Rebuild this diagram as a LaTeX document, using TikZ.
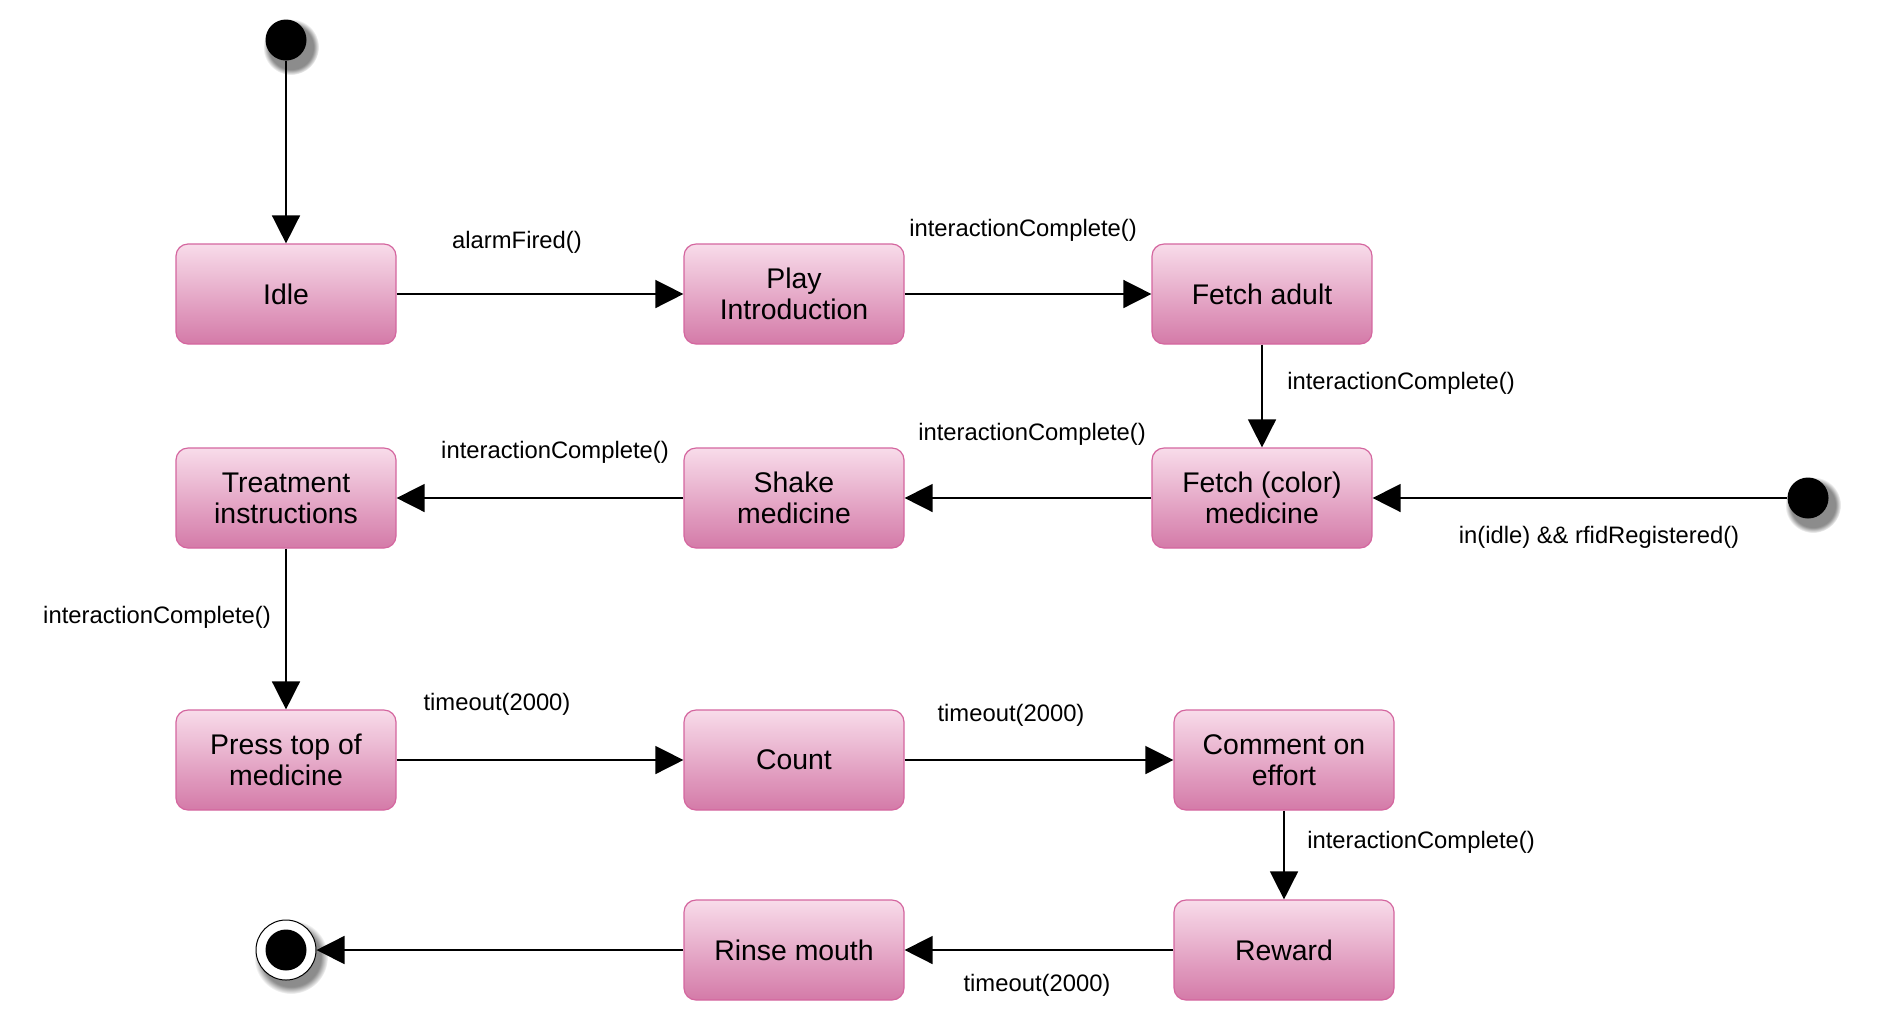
\documentclass[tikz,border=0pt]{standalone}
\usepackage{fontspec}
\setmainfont{Liberation Sans}
\usetikzlibrary{arrows.meta,fadings}
\definecolor{mtop}{HTML}{F8DCEA}
\definecolor{mbot}{HTML}{D47AA8}
\definecolor{mline}{HTML}{D4669F}
\tikzstyle{state}=[rectangle, rounded corners=6pt, draw=mline, line width=0.6, top color=mtop, bottom color=mbot, minimum width=110pt, minimum height=50pt, align=center, font=\fontsize{14.2}{15.5}\selectfont]
\tikzstyle{init}=[circle, fill=black, minimum size=20.5pt, inner sep=0pt]
\tikzstyle{fin}=[circle, draw=black, fill=white, line width=0.5, minimum size=30pt, inner sep=0pt]
\tikzstyle{lbl}=[font=\fontsize{11.9}{14}\selectfont, inner sep=0pt]
\tikzstyle{l1}=[line width=0.75]
\tikzstyle{trans}=[l1, -{Triangle[length=14pt, width=14pt]}]
\tikzstyle{shade}=[black!45, path fading=circle with fuzzy edge 20 percent]

\begin{document}
\begin{tikzpicture}[x=0.5pt, y=-0.5pt]
    \useasboundingbox (0,0) rectangle (1882,1024);

    % shadows of the round states
    \fill[shade] (291,47) circle (28);
    \fill[shade] (1813,505) circle (28);
    \fill[shade] (291,957) circle (37);

    \node[init] at (286,40) (start) {};
    \node[init] at (1808,498) (rfid) {};
    \node[fin] at (286,950) (stop) {};
    \node[init] at (286,950) {};

    % row 1
    \node[state] at (286,294) (idle) {Idle};
    \node[state] at (794,294) (play) {Play\\Introduction};
    \node[state] at (1262,294) (adult) {Fetch adult};

    % row 2
    \node[state] at (286,498) (treat) {Treatment\\instructions};
    \node[state] at (794,498) (shake) {Shake\\medicine};
    \node[state] at (1262,498) (fetch) {Fetch (color)\\medicine};

    % row 3
    \node[state] at (286,760) (press) {Press top of\\medicine};
    \node[state] at (794,760) (count) {Count};
    \node[state] at (1284,760) (comment) {Comment on\\effort};

    % row 4
    \node[state] at (794,950) (rinse) {Rinse mouth};
    \node[state] at (1284,950) (reward) {Reward};

    \draw[trans] (start) -- (idle);
    \draw[trans] (idle) -- (play);
    \draw[trans] (play) -- (adult);
    \draw[trans] (adult) -- (fetch);
    \draw[trans] (rfid) -- (fetch);
    \draw[trans] (fetch) -- (shake);
    \draw[trans] (shake) -- (treat);
    \draw[trans] (treat) -- (press);
    \draw[trans] (press) -- (count);
    \draw[trans] (count) -- (comment);
    \draw[trans] (comment) -- (reward);
    \draw[trans] (reward) -- (rinse);
    \draw[trans] (rinse) -- (stop);

    \node[lbl] at (517,242) (t1) {alarmFired()};
    \node[lbl] at (1023,230) (t2) {interactionComplete()};
    \node[lbl] at (1401,383) (t3) {interactionComplete()};
    \node[lbl] at (1599,537) (t4) {in(idle) \&\& rfidRegistered()};
    \node[lbl] at (1032,434) (t5) {interactionComplete()};
    \node[lbl] at (555,452) (t6) {interactionComplete()};
    \node[lbl] at (157,617) (t7) {interactionComplete()};
    \node[lbl] at (497,704) (t8) {timeout(2000)};
    \node[lbl] at (1011,715) (t9) {timeout(2000)};
    \node[lbl] at (1421,842) (t10) {interactionComplete()};
    \node[lbl] at (1037,985) (t11) {timeout(2000)};
\end{tikzpicture}
\end{document}
